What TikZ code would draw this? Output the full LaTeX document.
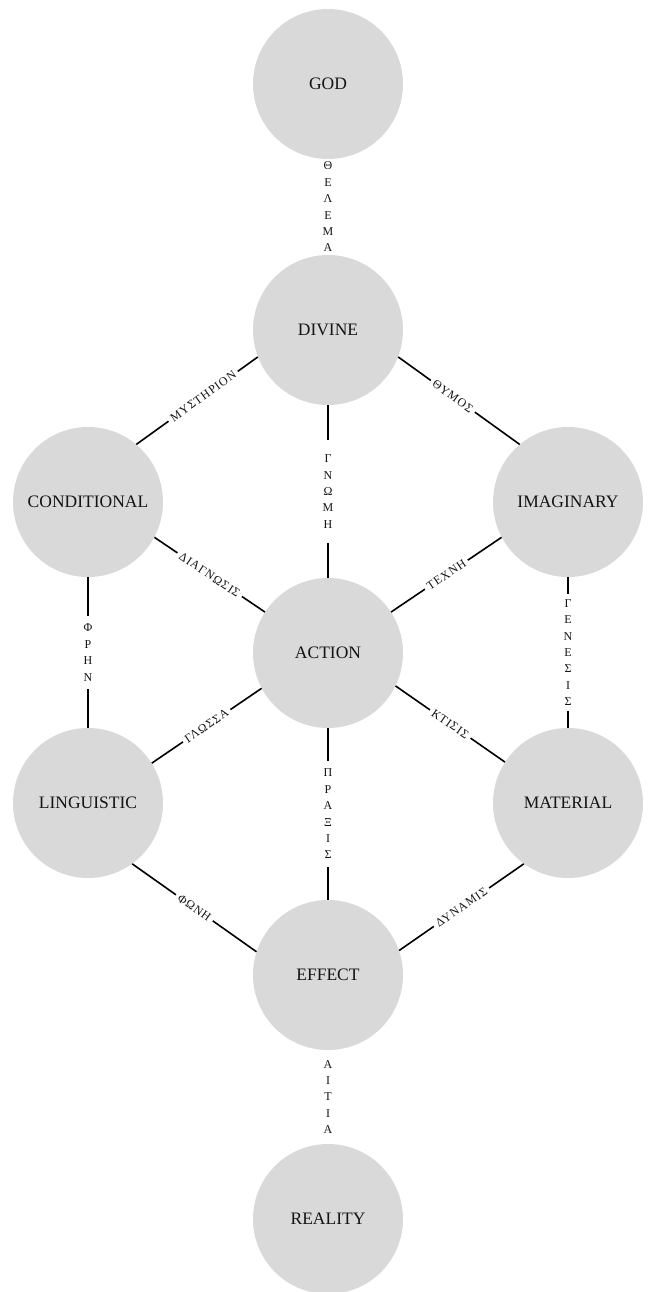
\documentclass[tikz,border=0pt]{standalone}
\usepackage{fontspec}
\setmainfont{Liberation Serif}
\newfontfamily\grk[LetterSpace=8]{Liberation Serif}
\definecolor{circ}{HTML}{D9D9D9}
\definecolor{ink}{HTML}{141414}
\begin{document}
\begin{tikzpicture}[x=1pt,y=-1pt,
  realm/.style={circle,fill=circ,draw=none,minimum size=150pt,inner sep=0pt,
    text=ink,font=\fontsize{17.5}{20}\selectfont},
  link/.style={line width=1.6pt,draw=black},
  dlab/.style={fill=white,inner xsep=3.5pt,inner ysep=0.5pt,sloped,text=ink,
    font=\grk\fontsize{12}{14}\selectfont},
  vlab/.style={fill=white,inner xsep=2pt,inner ysep=8pt,align=center,text=ink,
    font=\grk\fontsize{12}{16.4}\selectfont}]
\useasboundingbox (0,0) rectangle (648,1292);
\node[realm] (god) at (328,84) {GOD};
\node[realm] (divine) at (328,330) {DIVINE};
\node[realm] (cond) at (88,502) {CONDITIONAL};
\node[realm] (imag) at (568,502) {IMAGINARY};
\node[realm] (action) at (328,653) {ACTION};
\node[realm] (ling) at (88,803) {LINGUISTIC};
\node[realm] (mat) at (568,803) {MATERIAL};
\node[realm] (effect) at (328,975) {EFFECT};
\node[realm] (reality) at (328,1219) {REALITY};

\draw[link] (divine.201) -- node[dlab,pos=0.45] {ΜΥΣΤΗΡΙΟΝ} (cond.50);
\draw[link] (divine.339) -- node[dlab,pos=0.45] {ΘΥΜΟΣ} (imag.130);
\draw[link] (cond.332) -- node[dlab,pos=0.5] {ΔΙΑΓΝΩΣΙΣ} (action.147);
\draw[link] (imag.208) -- node[dlab,pos=0.5] {ΤΕΧΝΗ} (action.33);
\draw[link] (action.208) -- node[dlab,pos=0.5] {ΓΛΩΣΣΑ} (ling.32);
\draw[link] (action.334) -- node[dlab,pos=0.5] {ΚΤΙΣΙΣ} (mat.147);
\draw[link] (ling.306) -- node[dlab,pos=0.5] {ΦΩΝΗ} (effect.162);
\draw[link] (mat.234) -- node[dlab,pos=0.5] {ΔΥΝΑΜΙΣ} (effect.19);

\draw[link] (cond) -- node[vlab] {Φ\\Ρ\\Η\\Ν} (ling);
\draw[link] (imag) -- node[vlab,inner ysep=5pt] {Γ\\Ε\\Ν\\Ε\\Σ\\Ι\\Σ} (mat);
\draw[link] (divine) -- node[vlab,inner ysep=15pt] {Γ\\Ν\\Ω\\Μ\\Η} (action);
\draw[link] (action) -- node[vlab] {Π\\Ρ\\Α\\Ξ\\Ι\\Σ} (effect);
\path (god) -- node[vlab,fill=none] (thelema) {Θ\\Ε\\Λ\\Ε\\Μ\\Α} (divine);
\path (effect) -- node[vlab,fill=none] (aitia) {Α\\Ι\\Τ\\Ι\\Α} (reality);
\end{tikzpicture}
\end{document}
